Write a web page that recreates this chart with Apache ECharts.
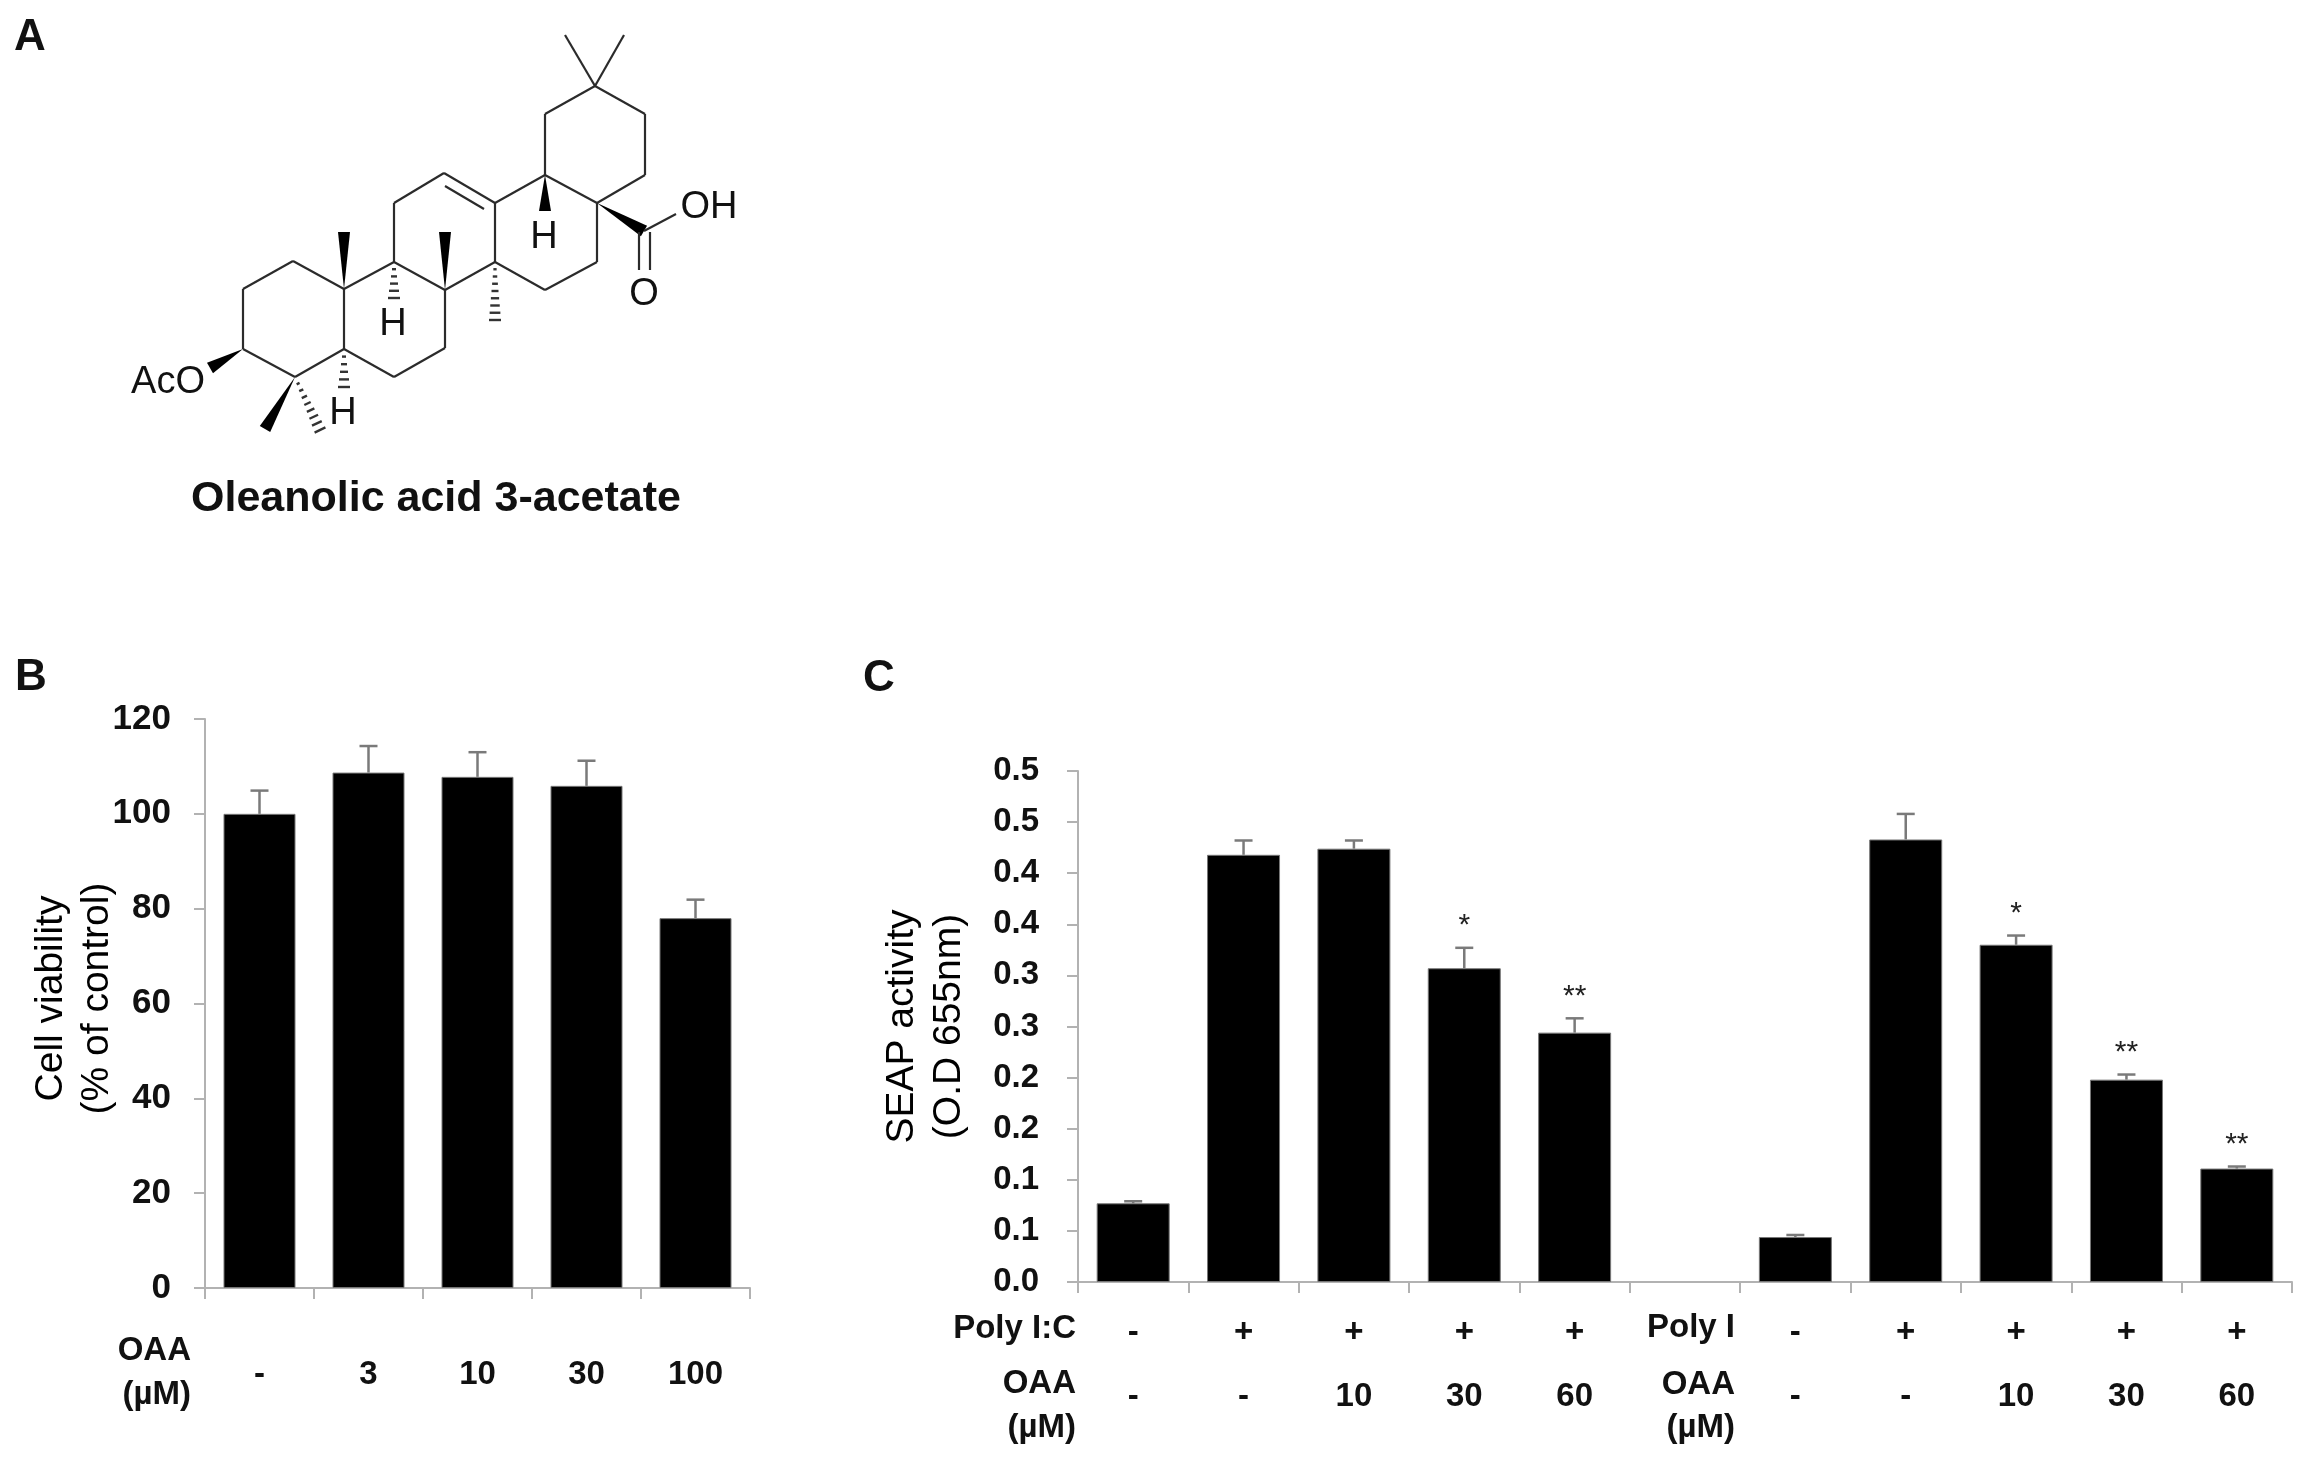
<!DOCTYPE html>
<html>
<head>
<meta charset="utf-8">
<title>Oleanolic acid 3-acetate</title>
<script src="https://cdn.jsdelivr.net/npm/echarts@6/dist/echarts.min.js"></script>
<style>
html,body{margin:0;padding:0;background:#fff;}
#main{width:2310px;height:1460px;}
</style>
</head>
<body>
<div id="main"></div>
<script>
// panel B
var doseLabels = ['-', '3', '10', '30', '100'];
var viability = [100, 108.7, 107.8, 105.9, 78];
var viabilityErr = [4.9, 5.6, 5.2, 5.3, 3.9];

// panel C
var polyRow = ['-', '+', '+', '+', '+', '', '-', '+', '+', '+', '+'];
var oaaRow = ['-', '-', '10', '30', '60', '', '-', '-', '10', '30', '60'];
var seap = [0.077, 0.418, 0.424, 0.307, 0.244, null, 0.044, 0.433, 0.330, 0.198, 0.111];
var seapErr = [0.002, 0.014, 0.008, 0.020, 0.014, null, 0.002, 0.025, 0.009, 0.005, 0.002];
var sigMarks = ['', '', '', '*', '**', '', '', '', '*', '**', '**'];
var seapTicks = ['0.0', '0.1', '0.1', '0.2', '0.2', '0.3', '0.3', '0.4', '0.4', '0.5', '0.5'];

// panel A, molecule skeleton
var atoms = {
    m1: [565, 35], m2: [624, 35], e1: [595, 86], e2: [645, 114], e3: [645, 175],
    e4: [597, 203], e5: [545, 175], e6: [545, 114],
    d1: [597, 262], d2: [545, 290], d3: [495, 262], d4: [495, 203],
    c1: [445, 290], c2: [394, 262], c3: [394, 203], c4: [444, 173],
    b1: [445, 348], b2: [394, 377], b3: [344, 349], b4: [344, 289],
    a1: [295, 377], a2: [243, 349], a3: [243, 289], a4: [293, 261],
    w1: [344, 232], w2: [445, 232], w3: [545, 211], w4: [644, 231], w5: [210, 368], w6: [265, 429],
    h1: [495, 320], h2: [394, 298], h3: [344, 387], h4: [320, 430],
    o1: [676, 214], i1: [445, 186], i2: [484, 209],
    k1: [639, 232], k2: [639, 270], k3: [650, 232], k4: [650, 270]
};
var bonds = [
    ['e1', 'm1', 'line'], ['e1', 'm2', 'line'], ['e1', 'e2', 'line'], ['e2', 'e3', 'line'], ['e3', 'e4', 'line'],
    ['e4', 'e5', 'line'], ['e5', 'e6', 'line'], ['e6', 'e1', 'line'],
    ['e4', 'd1', 'line'], ['d1', 'd2', 'line'], ['d2', 'd3', 'line'], ['d3', 'd4', 'line'], ['d4', 'e5', 'line'],
    ['d3', 'c1', 'line'], ['c1', 'c2', 'line'], ['c2', 'c3', 'line'], ['c3', 'c4', 'line'], ['c4', 'd4', 'line'], ['i1', 'i2', 'line'],
    ['c1', 'b1', 'line'], ['b1', 'b2', 'line'], ['b2', 'b3', 'line'], ['b3', 'b4', 'line'], ['b4', 'c2', 'line'],
    ['b3', 'a1', 'line'], ['a1', 'a2', 'line'], ['a2', 'a3', 'line'], ['a3', 'a4', 'line'], ['a4', 'b4', 'line'],
    ['b4', 'w1', 'wedge'], ['c1', 'w2', 'wedge'], ['e5', 'w3', 'wedge'], ['e4', 'w4', 'wedge'], ['a2', 'w5', 'wedge'], ['a1', 'w6', 'wedge'],
    ['d3', 'h1', 'hash'], ['c2', 'h2', 'hash'], ['b3', 'h3', 'hash'], ['a1', 'h4', 'hash'],
    ['w4', 'o1', 'line'], ['k1', 'k2', 'line'], ['k3', 'k4', 'line']
];
var atomLabels = [
    ['AcO', 168, 379], ['OH', 709, 204], ['O', 644, 291], ['H', 544, 234], ['H', 393, 321], ['H', 343, 410]
];

var font = '"Liberation Sans", Arial, sans-serif';
var axisGrey = '#b2b2b2';
var errGrey = '#7a7a7a';

// 误差线
function errItem(params, api) {
    var v = api.coord([api.value(0), api.value(1)]);
    var t = api.coord([api.value(0), api.value(2)]);
    var style = {stroke: errGrey, lineWidth: 2.5, fill: 'none'};
    return {
        type: 'group',
        children: [
            {type: 'line', shape: {x1: t[0], y1: v[1], x2: t[0], y2: t[1]}, style: style},
            {type: 'line', shape: {x1: t[0] - 9, y1: t[1], x2: t[0] + 9, y2: t[1]}, style: style}
        ]
    };
}

function errData(vals, errs) {
    var out = [];
    for (var i = 0; i < vals.length; i++) {
        if (vals[i] != null) out.push([i, vals[i], vals[i] + errs[i]]);
    }
    return out;
}

// 结构式
function bondItem(params, api) {
    var b = bonds[params.dataIndex];
    var p = api.coord(atoms[b[0]]);
    var q = api.coord(atoms[b[1]]);
    if (b[2] == 'line') {
        return {type: 'line', shape: {x1: p[0], y1: p[1], x2: q[0], y2: q[1]}, style: {stroke: '#2b2b2b', lineWidth: 2.2}};
    }
    var dx = q[0] - p[0], dy = q[1] - p[1];
    var len = Math.sqrt(dx * dx + dy * dy);
    var nx = -dy / len, ny = dx / len;
    if (b[2] == 'wedge') {
        return {
            type: 'polygon',
            shape: {points: [[p[0], p[1]], [q[0] + nx * 6, q[1] + ny * 6], [q[0] - nx * 6, q[1] - ny * 6]]},
            style: {fill: '#000'}
        };
    }
    var kids = [];
    var n = Math.round(len / 7);
    for (var i = 1; i <= n; i++) {
        var f = i / n, w = 1 + 5 * f;
        var cx = p[0] + dx * f, cy = p[1] + dy * f;
        kids.push({
            type: 'line',
            shape: {x1: cx + nx * w, y1: cy + ny * w, x2: cx - nx * w, y2: cy - ny * w},
            style: {stroke: '#333', lineWidth: 2.4}
        });
    }
    return {type: 'group', children: kids};
}

function txt(s, x, y, align, size, weight) {
    return {
        type: 'text', left: null, x: x, y: y,
        style: {
            text: s, fill: '#111', font: (weight || 'bold') + ' ' + size + 'px ' + font,
            textAlign: align, textVerticalAlign: 'middle'
        }
    };
}

var axisLine = {show: true, lineStyle: {color: axisGrey, width: 2}};
var axisTick = {show: true, length: 11, lineStyle: {color: axisGrey, width: 2}};

var myChart = echarts.init(document.getElementById('main'));
var option = {
    animation: false,
    backgroundColor: '#fff',
    textStyle: {fontFamily: font},
    grid: [
        {left: 205, top: 719, width: 545, height: 569},
        {left: 1078, top: 771, width: 1214, height: 511},
        {left: 0, top: 0, width: 800, height: 560}
    ],
    xAxis: [
        {
            gridIndex: 0, type: 'category', data: doseLabels,
            axisLine: axisLine, axisTick: axisTick,
            axisLabel: {interval: 0, margin: 70, fontSize: 33, fontWeight: 'bold', color: '#111'}
        },
        {
            gridIndex: 1, type: 'category', data: polyRow.map(function (p, i) { return i; }),
            axisLine: axisLine, axisTick: axisTick,
            axisLabel: {
                interval: 0, margin: 19, fontSize: 33, fontWeight: 'bold', color: '#111', lineHeight: 64,
                formatter: function (v, i) { return polyRow[i] + '\n' + oaaRow[i]; }
            }
        },
        {gridIndex: 2, type: 'value', min: 0, max: 800, show: false}
    ],
    yAxis: [
        {
            gridIndex: 0, type: 'value', min: 0, max: 120, interval: 20,
            name: 'Cell viability\n(% of control)', nameLocation: 'middle', nameGap: 85, nameRotate: 90, nameMoveOverlap: false,
            nameTextStyle: {fontSize: 39, color: '#000', lineHeight: 46, padding: [0, 0, 0, 10]},
            splitLine: {show: false}, axisLine: axisLine, axisTick: axisTick,
            axisLabel: {margin: 34, fontSize: 35, fontWeight: 'bold', color: '#111', padding: [4, 0, 0, 0]}
        },
        {
            gridIndex: 1, type: 'value', min: 0, max: 0.5, interval: 0.05,
            name: 'SEAP activity\n(O.D 655nm)', nameLocation: 'middle', nameGap: 105, nameRotate: 90, nameMoveOverlap: false,
            nameTextStyle: {fontSize: 39, color: '#000', lineHeight: 47},
            splitLine: {show: false}, axisLine: axisLine, axisTick: axisTick,
            axisLabel: {
                margin: 39, fontSize: 33, fontWeight: 'bold', color: '#111', padding: [2, 0, 0, 0],
                formatter: function (v) { return seapTicks[Math.round(v / 0.05)]; }
            }
        },
        {gridIndex: 2, type: 'value', min: 0, max: 560, inverse: true, show: false}
    ],
    graphic: [
        txt('A', 14, 38, 'left', 44),
        txt('B', 15, 678, 'left', 44),
        txt('C', 863, 679, 'left', 44),
        txt('Oleanolic acid 3-acetate', 436, 499, 'center', 43),
        txt('OAA', 191, 1351, 'right', 33),
        txt('(µM)', 191, 1395, 'right', 33),
        txt('Poly I:C', 1076, 1329, 'right', 33),
        txt('OAA', 1076, 1384, 'right', 33),
        txt('(µM)', 1076, 1428, 'right', 33),
        txt('Poly I', 1735, 1328, 'right', 33),
        txt('OAA', 1735, 1385, 'right', 33),
        txt('(µM)', 1735, 1428, 'right', 33)
    ],
    series: [
        {
            type: 'bar', xAxisIndex: 0, yAxisIndex: 0, data: viability, barWidth: 72,
            itemStyle: {color: '#000', borderColor: '#777', borderWidth: 1}
        },
        {
            type: 'custom', xAxisIndex: 0, yAxisIndex: 0, renderItem: errItem,
            data: errData(viability, viabilityErr), z: 1
        },
        {
            type: 'bar', xAxisIndex: 1, yAxisIndex: 1, data: seap, barWidth: 73,
            itemStyle: {color: '#000', borderColor: '#777', borderWidth: 1}
        },
        {
            type: 'custom', xAxisIndex: 1, yAxisIndex: 1, renderItem: errItem,
            data: errData(seap, seapErr), z: 1
        },
        {
            // 显著性星号
            type: 'scatter', xAxisIndex: 1, yAxisIndex: 1, symbolSize: 0, itemStyle: {opacity: 1},
            data: errData(seap, seapErr).filter(function (d) { return sigMarks[d[0]]; }).map(function (d) { return [d[0], d[2]]; }),
            label: {
                show: true, position: 'top', distance: 7, fontSize: 30, color: '#222',
                formatter: function (p) { return sigMarks[p.value[0]]; }
            }
        },
        {
            type: 'custom', xAxisIndex: 2, yAxisIndex: 2, renderItem: bondItem, clip: false,
            data: bonds.map(function (b, i) { return [i, i]; })
        },
        {
            type: 'scatter', xAxisIndex: 2, yAxisIndex: 2, symbolSize: 0, itemStyle: {opacity: 1},
            data: atomLabels.map(function (a) { return [a[1], a[2], a[0]]; }),
            label: {
                show: true, position: 'inside', offset: [0, 4], fontSize: 38, color: '#111',
                formatter: function (p) { return p.value[2]; }
            }
        }
    ]
};
myChart.setOption(option);
</script>
</body>
</html>
